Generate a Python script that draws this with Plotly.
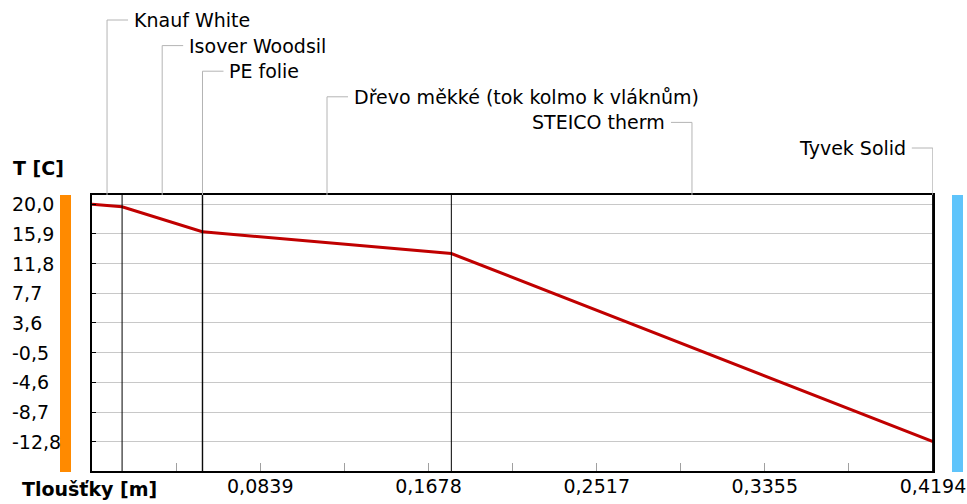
"""Temperature profile through a wall assembly (Plotly recreation)."""

import plotly.graph_objects as go

# ---- data -----------------------------------------------------------------
layer_names = [
    "Knauf White",
    "Isover Woodsil",
    "PE folie",
    "Dřevo měkké (tok kolmo k vláknům)",
    "STEICO therm",
    "Tyvek Solid",
]
layer_thickness = [0.015, 0.040, 0.0002, 0.124, 0.240, 0.0002]  # m
boundary_temps = [20.0, 19.65, 16.2, 16.2, 13.2, -12.8, -12.8]  # C, at each interface

x_tick_vals = [0, 0.0419, 0.0839, 0.1258, 0.1678, 0.2097, 0.2517, 0.2936, 0.3355, 0.3775, 0.4194]
x_tick_text = ["", "", "0,0839", "", "0,1678", "", "0,2517", "", "0,3355", "", "0,4194"]
y_tick_vals = [20.0, 15.9, 11.8, 7.7, 3.6, -0.5, -4.6, -8.7, -12.8]
y_tick_text = ["20,0", "15,9", "11,8", "7,7", "3,6", "-0,5", "-4,6", "-8,7", "-12,8"]

# ---- layout constants -----------------------------------------------------
W, H = 967, 504
L, R, T, B = 92, 34, 195, 33
PLOT_W = W - L - R
PLOT_H = H - T - B
FONT = "DejaVu Sans"
LINE_RED = "#c00000"
GRID = "#c8c8c8"
LEADER = "#b4b4b4"

boundaries = [0.0]
for t in layer_thickness:
    boundaries.append(boundaries[-1] + t)
total = boundaries[-1]
X_RANGE = [0, total]
Y_RANGE = [-16.85, 21.28]


def px_to_dx(px):
    return px / PLOT_W * (X_RANGE[1] - X_RANGE[0])


def paper_x(px):
    return (px - L) / PLOT_W


def paper_y(py):
    return (H - B - py) / PLOT_H


fig = go.Figure()
fig.add_trace(
    go.Scatter(
        x=boundaries,
        y=boundary_temps,
        mode="lines",
        line={"color": LINE_RED, "width": 3},
        hovertemplate="%{x:.4f} m<br>%{y:.1f} °C<extra></extra>",
        showlegend=False,
    )
)

shapes = []
# interior layer boundaries
for b in boundaries[1:-1]:
    shapes.append(dict(type="line", xref="x", yref="paper", x0=b, x1=b, y0=0, y1=1,
                       line={"color": "black", "width": 1}))

# temperature colour bars (inside / outside)
shapes.append(dict(type="rect", xref="paper", yref="paper", x0=paper_x(60), x1=paper_x(71),
                   y0=paper_y(472), y1=1, fillcolor="#ff8a00", line={"width": 0}))
shapes.append(dict(type="rect", xref="paper", yref="paper", x0=paper_x(952), x1=paper_x(963),
                   y0=paper_y(472), y1=1, fillcolor="#5fc4fb", line={"width": 0}))

annotations = []
for i, name in enumerate(layer_names):
    cx = (boundaries[i] + boundaries[i + 1]) / 2
    ly = 20 + 25.6 * i
    right_side = cx > total / 2
    sign = -1 if right_side else 1
    shapes.append(dict(type="line", xref="x", yref="paper", x0=cx, x1=cx,
                       y0=paper_y(ly), y1=1, line={"color": LEADER, "width": 1}))
    shapes.append(dict(type="line", xref="x", yref="paper", x0=cx, x1=cx + sign * px_to_dx(21),
                       y0=paper_y(ly), y1=paper_y(ly), line={"color": LEADER, "width": 1}))
    annotations.append(dict(
        text=name, xref="x", yref="paper", x=cx + sign * px_to_dx(25), y=paper_y(ly),
        xanchor="right" if right_side else "left", yanchor="middle", showarrow=False,
        font={"family": FONT, "size": 19, "color": "black"},
    ))

for v, txt in zip(y_tick_vals, y_tick_text):
    annotations.append(dict(text=txt, xref="paper", yref="y", x=paper_x(10), y=v,
                            xanchor="left", yanchor="middle", showarrow=False,
                            font={"family": FONT, "size": 19, "color": "black"}))

annotations.append(dict(text="<b>T [C]</b>", xref="paper", yref="paper", x=paper_x(11),
                        y=paper_y(168), xanchor="left", yanchor="middle", showarrow=False,
                        font={"family": FONT, "size": 19, "color": "black"}))
annotations.append(dict(text="<b>Tloušťky [m]</b>", xref="paper", yref="paper", x=paper_x(20),
                        y=paper_y(489), xanchor="left", yanchor="middle", showarrow=False,
                        font={"family": FONT, "size": 19, "color": "black"}))

fig.update_layout(
    width=W,
    height=H,
    margin={"l": L, "r": R, "t": T, "b": B, "pad": 0},
    paper_bgcolor="white",
    plot_bgcolor="white",
    font={"family": FONT, "size": 19, "color": "black"},
    shapes=shapes,
    annotations=annotations,
    showlegend=False,
)
fig.update_xaxes(
    range=X_RANGE,
    automargin=False,
    tickvals=x_tick_vals,
    ticktext=x_tick_text,
    ticks="inside",
    ticklen=8,
    tickcolor="#a0a0a0",
    ticklabelstandoff=-3,
    showgrid=False,
    zeroline=False,
    showline=True,
    linecolor="black",
    linewidth=2,
    mirror=True,
    tickfont={"family": FONT, "size": 19, "color": "black"},
)
fig.update_yaxes(
    range=Y_RANGE,
    automargin=False,
    tickvals=y_tick_vals,
    showticklabels=False,
    ticks="inside",
    ticklen=4,
    tickcolor="black",
    showgrid=True,
    gridcolor=GRID,
    gridwidth=1,
    zeroline=False,
    showline=True,
    linecolor="black",
    linewidth=2,
    mirror=True,
)

# drop the default page margin so the figure sits at the window origin
fig.write_html(
    "out.html",
    config={"displayModeBar": False},
    post_script="document.body.style.margin = '0';",
)
